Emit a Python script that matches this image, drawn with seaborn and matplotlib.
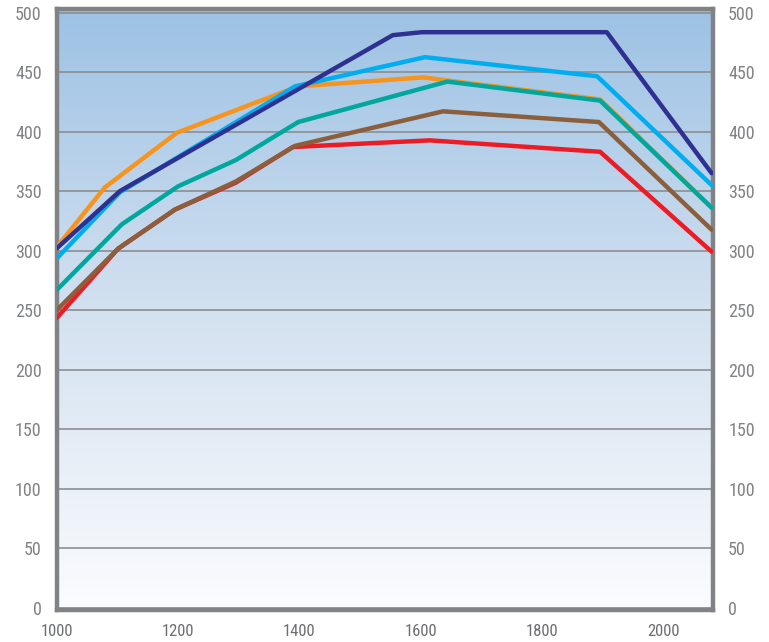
import numpy as np
import pandas as pd
import matplotlib
matplotlib.use("Agg")
import matplotlib.pyplot as plt
from matplotlib.colors import LinearSegmentedColormap
import seaborn as sns

sns.set_style("white")
plt.rcParams['font.family'] = ['Roboto Condensed', 'DejaVu Sans']

# curve data
navy_x = [1000, 1104, 1554, 1602, 1907, 2080]
navy_y = [302, 350, 481, 483.5, 483.5, 365]
lblue_x = [1000, 1104, 1393, 1607, 1891, 2080]
lblue_y = [293.5, 349, 438, 462.5, 446.5, 355]
orange_x = [1000, 1079, 1198, 1398, 1604, 1896, 2080]
orange_y = [303, 353, 399, 438, 445.5, 427, 336]
teal_x = [1000, 1107, 1200, 1295, 1398, 1644, 1896, 2080]
teal_y = [267, 322, 354, 376, 408, 442, 426, 336]
brown_x = [1000, 1101, 1195, 1295, 1393, 1637, 1894, 2080]
brown_y = [250, 301.6, 334.5, 358, 388, 417, 408, 317.5]
red_x = [1000, 1101, 1195, 1295, 1389, 1615, 1896, 2080]
red_y = [243.5, 301.6, 334.5, 357, 387, 392.6, 383, 299]

series = {
    "orange": (orange_x, orange_y, "#f7941d"),
    "red": (red_x, red_y, "#ed1c24"),
    "brown": (brown_x, brown_y, "#8b5e3c"),
    "teal": (teal_x, teal_y, "#00a79d"),
    "lblue": (lblue_x, lblue_y, "#00aeef"),
    "navy": (navy_x, navy_y, "#2e3192"),
}

y_ticks = [0, 50, 100, 150, 200, 250, 300, 350, 400, 450, 500]
x_ticks = [1000, 1200, 1400, 1600, 1800, 2000]

rows = []
for name, (xs, ys, _) in series.items():
    for x, y in zip(xs, ys):
        rows.append({"rpm": x, "val": y, "curve": name})
df = pd.DataFrame(rows)
palette = {k: v[2] for k, v in series.items()}

fig = plt.figure(figsize=(7.69, 6.42), dpi=100)
ax = fig.add_axes([0.074, 0.05, 0.853, 0.936])

# gradient background
cmap = LinearSegmentedColormap.from_list("bg", ["#fbfcfe", "#d3e1f0", "#9dc2e4"])
grad = np.linspace(0, 1, 256).reshape(-1, 1)
ax.imshow(grad, extent=[0, 1, 0, 1], transform=ax.transAxes, cmap=cmap,
          aspect='auto', origin='lower', zorder=0)

sns.lineplot(data=df, x="rpm", y="val", hue="curve", palette=palette,
             hue_order=list(series.keys()), estimator=None, sort=False,
             linewidth=3.2, ax=ax, legend=False, zorder=3)

ax.set_xlim(1000, 2082)
ax.set_ylim(-2, 503)
ax.set_yticks(y_ticks)
ax.set_xticks(x_ticks)
ax.set_xticks(np.arange(1100, 2001, 200), minor=True)
ax.set_xlabel("")
ax.set_ylabel("")

ax.set_axisbelow(True)
ax.grid(axis='y', color='#8c8e91', linewidth=1.2, zorder=1)
ax.grid(axis='x', visible=False)

for sp in ax.spines.values():
    sp.set_color('#808285')
    sp.set_linewidth(3.2)

ax.tick_params(axis='y', length=0, pad=11, labelsize=13, labelcolor='#808285',
               left=False, right=False, labelleft=True, labelright=True)
ax.tick_params(axis='x', which='both', direction='in', length=9, width=1,
               color='#808285', pad=10, labelsize=12, labelcolor='#6d6e71')

fig.savefig("out.png", dpi=100)
